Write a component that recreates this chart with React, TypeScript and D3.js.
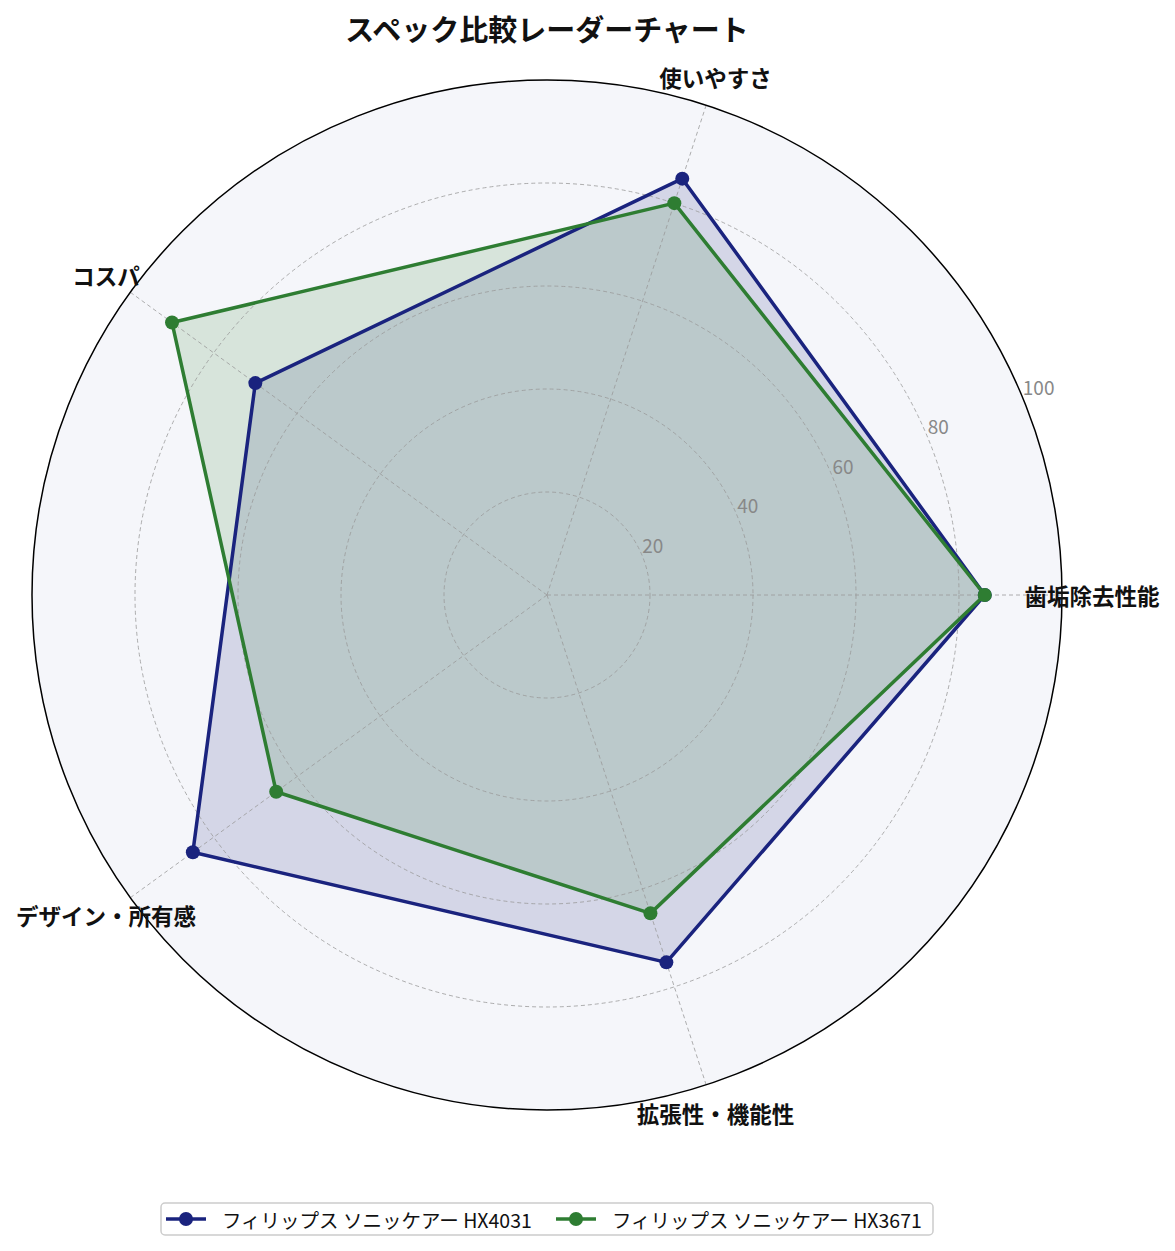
import React from 'react';
import * as d3 from 'd3';

const categories = ['歯垢除去性能', '使いやすさ', 'コスパ', 'デザイン・所有感', '拡張性・機能性'];
const seriesNames = ['フィリップス ソニッケアー HX4031', 'フィリップス ソニッケアー HX3671'];
const hx4031 = [85, 85, 70, 85, 75];
const hx3671 = [85, 80, 90, 65, 65];
const rTicks = [20, 40, 60, 80, 100];
const colors = ['#1a237e', '#2e7d32'];

const W = 1175;
const H = 1251;
const cx = 547;
const cy = 595;
const R = 515;
const FONT = '"Noto Sans CJK JP", "Noto Sans", sans-serif';

export default function App() {
  const n = categories.length;
  const angle = d3.scaleLinear().domain([0, n]).range([0, 2 * Math.PI]);
  const r = d3.scaleLinear().domain([0, 100]).range([0, R]);
  const px = (i: number, v: number) => cx + r(v) * Math.cos(angle(i));
  const py = (i: number, v: number) => cy - r(v) * Math.sin(angle(i));

  const line = d3
    .lineRadial<number>()
    .angle((_, i) => Math.PI / 2 - angle(i))
    .radius((d) => r(d))
    .curve(d3.curveLinearClosed);

  const series = [hx4031, hx3671];
  const labelAngle = (22.5 * Math.PI) / 180;

  return (
    <svg
      width={W}
      height={H}
      style={{ position: 'absolute', left: 0, top: 0, background: '#fff' }}
      fontFamily={FONT}
    >
      <text x={cx} y={28} textAnchor="middle" dominantBaseline="central" fontSize={29} fontWeight="bold" fill="#111">
        スペック比較レーダーチャート
      </text>
      <circle cx={cx} cy={cy} r={R} fill="#f5f6fa" />
      {series.map((s, k) => (
        <path
          key={'f' + k}
          d={line(s) || ''}
          transform={`translate(${cx},${cy})`}
          fill={colors[k]}
          fillOpacity={0.15}
          stroke="none"
        />
      ))}
      {rTicks.slice(0, -1).map((t) => (
        <circle key={'g' + t} cx={cx} cy={cy} r={r(t)} fill="none" stroke="#999" strokeWidth={0.8} strokeDasharray="4,3" />
      ))}
      {categories.map((c, i) => (
        <line
          key={'s' + i}
          x1={cx}
          y1={cy}
          x2={px(i, 100)}
          y2={py(i, 100)}
          stroke="#999"
          strokeWidth={0.8}
          strokeDasharray="4,3"
        />
      ))}
      {series.map((s, k) => (
        <g key={'l' + k}>
          <path
            d={line(s) || ''}
            transform={`translate(${cx},${cy})`}
            fill="none"
            stroke={colors[k]}
            strokeWidth={3.5}
            strokeLinejoin="round"
          />
          {s.map((v, i) => (
            <circle key={i} cx={px(i, v)} cy={py(i, v)} r={7} fill={colors[k]} />
          ))}
        </g>
      ))}
      <circle cx={cx} cy={cy} r={R} fill="none" stroke="#000" strokeWidth={1.5} />
      {rTicks.map((t) => (
        <text
          key={'t' + t}
          x={cx + r(t) * Math.cos(labelAngle)}
          y={cy - r(t) * Math.sin(labelAngle) - 3}
          fontSize={19}
          fill="#888"
        >
          {t}
        </text>
      ))}
      {categories.map((c, i) => (
        <text
          key={'c' + i}
          x={cx + (R + 30) * Math.cos(angle(i))}
          y={cy - (R + 30) * Math.sin(angle(i))}
          textAnchor="middle"
          dominantBaseline="central"
          fontSize={22.5}
          fontWeight="bold"
          fill="#111"
        >
          {c}
        </text>
      ))}
      <g>
        <rect x={161} y={1203} width={772} height={32} rx={4} fill="#fff" stroke="#ccc" strokeWidth={1.5} />
        {seriesNames.map((nm, k) => {
          const x0 = k === 0 ? 166 : 556;
          return (
            <g key={'lg' + k}>
              <line x1={x0} y1={1219} x2={x0 + 40} y2={1219} stroke={colors[k]} strokeWidth={3.5} />
              <circle cx={x0 + 20} cy={1219} r={7} fill={colors[k]} />
              <text x={x0 + 56} y={1219} dominantBaseline="central" fontSize={19.5} fill="#111">
                {nm}
              </text>
            </g>
          );
        })}
      </g>
    </svg>
  );
}
